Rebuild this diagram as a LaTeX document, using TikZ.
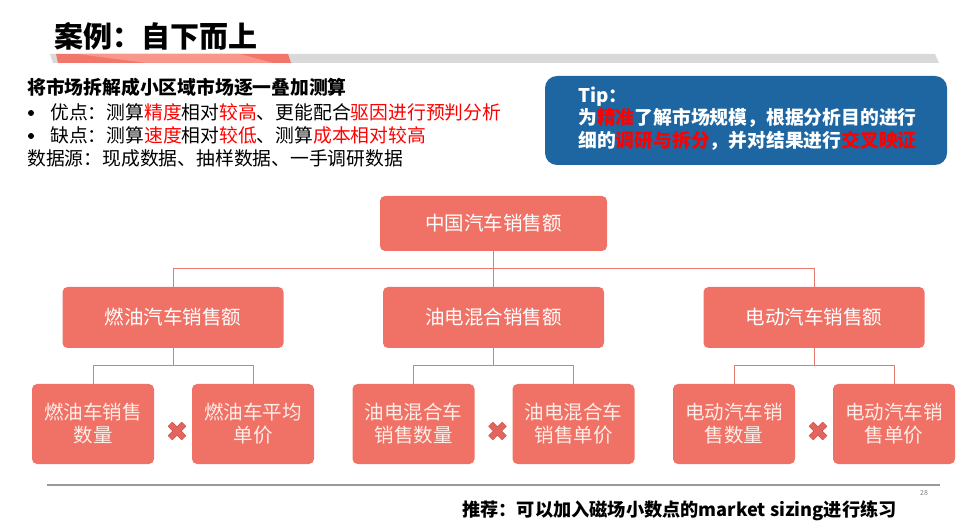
\documentclass[tikz,border=0pt]{standalone}
\usepackage{fontspec}
\setmainfont{Noto Sans CJK SC}
\usetikzlibrary{shapes.misc,calc}
\definecolor{boxred}{HTML}{F07266}
\definecolor{leaftext}{HTML}{FFEDE8}
\definecolor{linkred}{HTML}{E47A70}
\definecolor{tipblue}{HTML}{1D66A1}
\definecolor{hotred}{HTML}{FF0000}
\definecolor{bargray}{HTML}{D9D9D9}
\definecolor{barred}{HTML}{F3766A}
\definecolor{barlight}{HTML}{F8968C}
\definecolor{crossfill}{HTML}{E3645C}
\definecolor{crossrim}{HTML}{C9554E}
\newcommand{\redtxt}[1]{\textcolor{hotred}{#1}}

\begin{document}
\begin{tikzpicture}[
        x=1pt, y=1pt,
        txt/.style={inner sep=0pt, anchor=base west, font=\fontsize{18.8}{22}\selectfont},
        boldtxt/.style={inner sep=0pt, anchor=base west, font=\bfseries\fontsize{18.8}{22}\selectfont},
        box/.style={fill=boxred, rounded corners=5pt, text=white, minimum width=221pt, minimum height=61pt, font=\fontsize{19.5}{23}\selectfont},
        leaf/.style={fill=boxred, rounded corners=5pt, text=leaftext, minimum width=122pt, minimum height=80pt, align=center, inner sep=0pt, font=\fontsize{19.5}{23}\selectfont},
        cross/.style={cross out, draw=crossrim, double=crossfill, double distance=5pt, line width=0.8pt, minimum size=13pt, inner sep=0pt},
        edge from parent/.style={draw, linkred, line width=0.9pt},
        edge from parent path={(\tikzparentnode.south) -- +(0,-17.5pt) -| (\tikzchildnode.north)},
        level 1/.style={sibling distance=320.5pt, level distance=94pt},
        level 2/.style={sibling distance=160pt, level distance=106.5pt},
    ]
    \useasboundingbox (0,0) rectangle (978,-529);

    % header
    \node[inner sep=0pt, anchor=base west, font=\bfseries\fontsize{29}{32}\selectfont] (title) at (54,-48) {案例：自下而上};
    \fill[bargray] (50,-54) -- (935,-54) -- (939,-63) -- (53,-63) -- cycle;
    \fill[barred] (56,-54) -- (288,-54) -- (291,-63) -- (58,-63) -- cycle;
    \fill[barlight] (77,-54) -- (240,-54) -- (273,-63) -- (147,-63) -- cycle;

    % method summary
    \node[boldtxt] (method) at (27,-95) {将市场拆解成小区域市场逐一叠加测算};
    \fill (31,-113) circle (3);
    \node[txt] (pros) at (50,-120) {优点：测算\redtxt{精度}相对\redtxt{较高}、更能配合\redtxt{驱因进行预判分析}};
    \fill (31,-136) circle (3);
    \node[txt] (cons) at (50,-143) {缺点：测算\redtxt{速度}相对\redtxt{较低}、测算\redtxt{成本相对较高}};
    \node[txt] (source) at (27,-166) {数据源：现成数据、抽样数据、一手调研数据};

    % tip
    \node[fill=tipblue, rounded corners=12pt, minimum width=402pt, minimum height=89pt] (tip) at (746,-120.5) {};
    \node[boldtxt, text=white] (tiptitle) at (578,-103) {Tip：};
    \node[boldtxt, text=white] (tipline1) at (578,-125) {为\redtxt{精准}了解市场规模，根据分析目的进行};
    \node[boldtxt, text=white] (tipline2) at (578,-148) {细的\redtxt{调研与拆分}，并对结果进行\redtxt{交叉映证}};

    % tree
    \node[box, minimum width=227pt, minimum height=55pt] (total) at (493.5,-223.5) {中国汽车销售额}
    child{node[box] (fuel) {燃油汽车销售额}
        child{node[leaf] (fuelqty) {燃油车销售\\数量}}
        child{node[leaf] (fuelprice) {燃油车平均\\单价}}
    }
    child{node[box] (hybrid) {油电混合销售额}
        child{node[leaf] (hybridqty) {油电混合车\\销售数量}}
        child{node[leaf] (hybridprice) {油电混合车\\销售单价}}
    }
    child{node[box] (ev) {电动汽车销售额}
        child{node[leaf] (evqty) {电动汽车销\\售数量}}
        child{node[leaf] (evprice) {电动汽车销\\售单价}}
    }
    ;
    \node[cross] (fuelx) at ($(fuelqty)!0.5!(fuelprice)+(4,-7)$) {};
    \node[cross] (hybridx) at ($(hybridqty)!0.5!(hybridprice)+(4,-7)$) {};
    \node[cross] (evx) at ($(evqty)!0.5!(evprice)+(4,-7)$) {};

    % footer
    \draw[gray!80, line width=1.2pt] (47,-485) -- (940,-485);
    \node[inner sep=0pt, font=\fontsize{7}{8}\selectfont, text=gray] (pageno) at (924,-493) {28};
    \node[inner sep=0pt, anchor=base west, font=\bfseries\fontsize{18.2}{22}\selectfont] (hint) at (462,-516) {推荐：可以加入磁场小数点的market sizing进行练习};
\end{tikzpicture}
\end{document}
